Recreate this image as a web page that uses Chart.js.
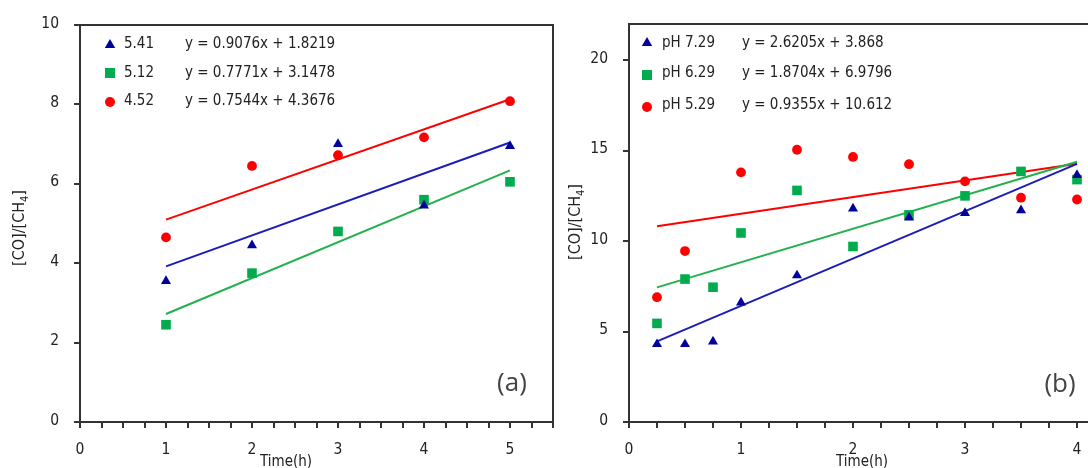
<!DOCTYPE html>
<html><head><meta charset="utf-8">
<script src="https://cdn.jsdelivr.net/npm/chart.js@4.4.0/dist/chart.umd.min.js"></script>
<style>
html,body{margin:0;padding:0;background:#fff;overflow:hidden;width:1088px;height:468px;position:relative;}
#ca{position:absolute;left:0;top:0;}
#cb{position:absolute;left:560px;top:0;}
</style></head><body>
<canvas id="ca" width="560" height="468"></canvas>
<canvas id="cb" width="600" height="468"></canvas>
<script>
// ---------- data: panel (a) ----------
const timeA = [1, 2, 3, 4, 5];
const a541 = [3.55, 4.45, 7.0, 5.45, 6.95];
const a512 = [2.45, 3.75, 4.8, 5.6, 6.05];
const a452 = [4.65, 6.45, 6.72, 7.17, 8.08];
const namesA = ['5.41', '5.12', '4.52'];
const eqA = ['y = 0.9076x + 1.8219', 'y = 0.7771x + 3.1478', 'y = 0.7544x + 4.3676'];

// ---------- data: panel (b) ----------
const timeB = [0.25, 0.5, 0.75, 1, 1.5, 2, 2.5, 3, 3.5, 4];
const b729 = [4.3, 4.3, 4.45, 6.6, 8.1, 11.8, 11.3, 11.55, 11.7, 13.65];
const b629 = [5.45, 7.9, 7.45, 10.45, 12.8, 9.7, 11.45, 12.5, 13.85, 13.4];
const b529 = [6.9, 9.45, null, 13.8, 15.05, 14.65, 14.25, 13.3, 12.4, 12.3];
const namesB = ['pH 7.29', 'pH 6.29', 'pH 5.29'];
const eqB = ['y = 2.6205x + 3.868', 'y = 1.8704x + 6.9796', 'y = 0.9355x + 10.612'];

const yTitle = ['[CO]/[CH', '4', ']'];
const xTitle = 'Time(h)';

// ---------- styles ----------
const FONT = "'DejaVu Sans Condensed','DejaVu Sans',sans-serif";
const BLUE = '#00009c', GREEN = '#00ac4e', RED = '#ff0000';
const GREENLINE = '#22b14c', BLUELINE = '#1c1cb8';
const styles = [
  {color: BLUE, line: BLUELINE, shape: 'triangle', r: 5.8},
  {color: GREEN, line: GREENLINE, shape: 'rect', r: 6.8},
  {color: RED, line: RED, shape: 'circle', r: 4.9}
];

function pts(xs, ys) {
  const out = [];
  xs.forEach((x, i) => { if (ys[i] !== null && ys[i] !== undefined) out.push({x: x, y: ys[i]}); });
  return out;
}
function fitLine(xs, ys) {
  const p = pts(xs, ys);
  const n = p.length;
  let sx = 0, sy = 0;
  p.forEach(q => { sx += q.x; sy += q.y; });
  const mx = sx / n, my = sy / n;
  let sxy = 0, sxx = 0;
  p.forEach(q => { sxy += (q.x - mx) * (q.y - my); sxx += (q.x - mx) * (q.x - mx); });
  const m = sxy / sxx, b = my - m * mx;
  const x0 = Math.min(...p.map(q => q.x)), x1 = Math.max(...p.map(q => q.x));
  return [{x: x0, y: m * x0 + b}, {x: x1, y: m * x1 + b}];
}

function datasets(xs, seriesList) {
  const ds = [];
  seriesList.forEach((ys, i) => {
    const s = styles[i];
    ds.push({
      data: pts(xs, ys), pointStyle: s.shape, pointRadius: s.r, pointHoverRadius: s.r,
      backgroundColor: s.color, borderColor: s.color, pointBorderWidth: 0, showLine: false, order: 0
    });
  });
  seriesList.forEach((ys, i) => {
    const s = styles[i];
    ds.push({
      data: fitLine(xs, ys), showLine: true, pointRadius: 0, borderColor: s.line,
      borderWidth: 2, fill: false, order: 1
    });
  });
  return ds;
}

function drawMarker(ctx, shape, x, y, color) {
  ctx.fillStyle = color;
  ctx.beginPath();
  if (shape === 'triangle') {
    const r = 6;
    ctx.moveTo(x, y - r);
    ctx.lineTo(x - r * 0.866, y + r / 2);
    ctx.lineTo(x + r * 0.866, y + r / 2);
    ctx.closePath();
  } else if (shape === 'rect') {
    ctx.rect(x - 5, y - 5, 10, 10);
  } else {
    ctx.arc(x, y, 5, 0, Math.PI * 2);
  }
  ctx.fill();
}

function decor(L) {
  return {
    id: 'decor',
    afterDraw(chart) {
      const ctx = chart.ctx, a = chart.chartArea;
      ctx.save();
      // box top + right
      ctx.strokeStyle = '#333';
      ctx.lineWidth = 2;
      ctx.beginPath();
      ctx.moveTo(a.left, a.top);
      ctx.lineTo(a.right, a.top);
      ctx.lineTo(a.right, a.bottom);
      ctx.stroke();
      // legend
      ctx.textBaseline = 'middle';
      ctx.textAlign = 'left';
      ctx.font = '15px ' + FONT;
      ctx.fillStyle = '#222';
      L.names.forEach((nm, i) => {
        drawMarker(ctx, styles[i].shape, L.mx, L.my[i], styles[i].color);
        ctx.fillStyle = '#222';
        ctx.fillText(nm, L.tx, L.ty[i]);
        ctx.fillText(L.eqs[i], L.ex, L.ty[i]);
      });
      // panel label
      ctx.font = '26px ' + "'Open Sans','Noto Sans',sans-serif";
      ctx.fillStyle = '#444';
      ctx.textAlign = 'center';
      ctx.fillText(L.panel, L.px, L.py);
      // x title
      ctx.font = '15px ' + FONT;
      ctx.fillStyle = '#222';
      ctx.fillText(xTitle, L.xtx, L.xty);
      // y title with subscript
      ctx.translate(L.ytx, L.yty);
      ctx.rotate(-Math.PI / 2);
      const f1 = '16px ' + FONT, f2 = '11px ' + FONT;
      ctx.font = f1; const w0 = ctx.measureText(yTitle[0]).width, w2 = ctx.measureText(yTitle[2]).width;
      ctx.font = f2; const w1 = ctx.measureText(yTitle[1]).width;
      let x = -(w0 + w1 + w2) / 2;
      ctx.textAlign = 'left';
      ctx.font = f1; ctx.fillText(yTitle[0], x, 0); x += w0;
      ctx.font = f2; ctx.fillText(yTitle[1], x, 5); x += w1;
      ctx.font = f1; ctx.fillText(yTitle[2], x, 0);
      ctx.restore();
    }
  };
}

function scaleOpts(min, max, step, fitFn) {
  return {
    type: 'linear', min: min, max: max,
    ticks: {stepSize: step, autoSkip: false, maxRotation: 0, color: '#222',
      font: {size: 15.5, family: FONT}},
    grid: {drawOnChartArea: false, drawTicks: true, tickLength: 6, color: '#333', lineWidth: 2},
    border: {display: true, color: '#333', width: 2},
    afterFit: fitFn
  };
}

function intLabel(v) { return Number.isInteger(v) ? String(v) : ''; }

function makeChart(id, xs, series, xmax, ymax, ystep, yw, padRight, padTop, L) {
  const xs_ = scaleOpts(0, xmax, 0.25, s => { s.height = 46; s.paddingLeft = 0; s.paddingRight = 0; });
  xs_.ticks.callback = intLabel;
  xs_.ticks.padding = 13;
  const ys_ = scaleOpts(0, ymax, ystep, s => { s.width = yw; s.paddingTop = 0; s.paddingBottom = 0; });
  ys_.ticks.padding = 15;
  ys_.ticks.labelOffset = -1.5;
  ys_.ticks.includeBounds = false;
  return new Chart(document.getElementById(id), {
    type: 'scatter',
    data: {datasets: datasets(xs, series)},
    options: {
      responsive: false, animation: false, devicePixelRatio: 1,
      layout: {padding: {top: padTop, right: padRight, left: 0, bottom: 0}},
      plugins: {legend: {display: false}, tooltip: {enabled: false}},
      scales: {x: xs_, y: ys_}
    },
    plugins: [decor(L)]
  });
}

makeChart('ca', timeA, [a541, a512, a452], 5.5, 10, 2, 80, 7, 25, {
  names: namesA, eqs: eqA, mx: 110, my: [45, 73, 102], tx: 124, ty: [44, 73, 101], ex: 185,
  panel: '(a)', px: 512, py: 384, xtx: 286, xty: 462, ytx: 20, yty: 228
});
makeChart('cb', timeB, [b729, b629, b529], 4.5, 22, 5, 69, 27, 24, {
  names: namesB, eqs: eqB, mx: 87, my: [43, 75, 107], tx: 102, ty: [43, 73, 105], ex: 182,
  panel: '(b)', px: 500, py: 385, xtx: 302, xty: 462, ytx: 16, yty: 222
});
</script>
</body></html>
